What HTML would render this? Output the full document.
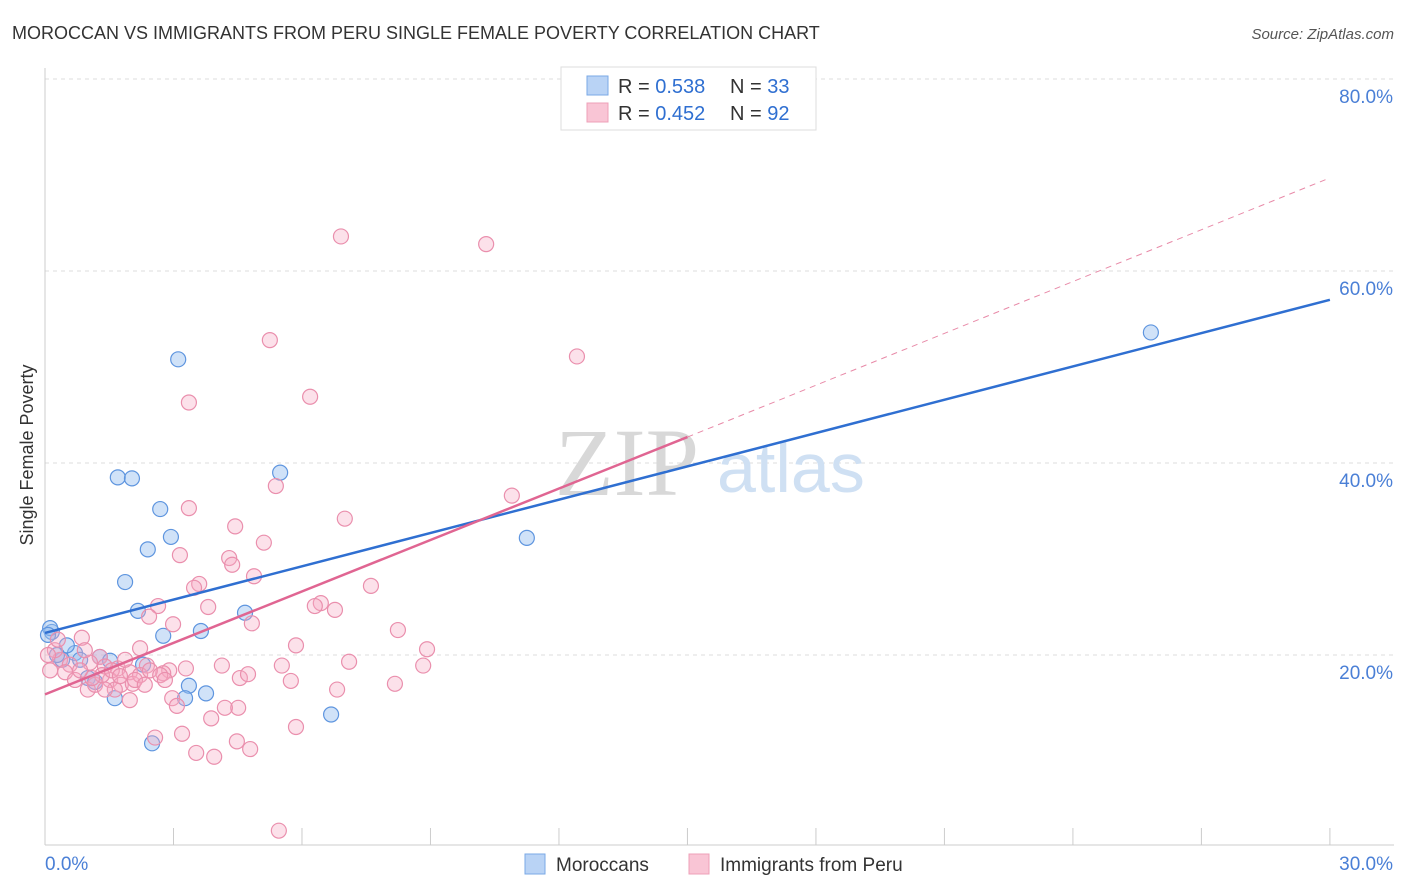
<!DOCTYPE html>
<html><head><meta charset="utf-8"><style>
body{margin:0;background:#fff;font-family:"Liberation Sans",sans-serif;}
svg{display:block}
</style></head><body>
<svg id="chart" width="1406" height="892">
<text x="12" y="39" font-size="18" fill="#333">MOROCCAN VS IMMIGRANTS FROM PERU SINGLE FEMALE POVERTY CORRELATION CHART</text>
<text x="1394" y="39" font-size="15" fill="#555" font-style="italic" text-anchor="end">Source: ZipAtlas.com</text>
<text x="33" y="455" font-size="18" fill="#333" text-anchor="middle" transform="rotate(-90 33 455)">Single Female Poverty</text>
<g id="grid"></g>
<g id="axes"></g>
<text x="555" y="495" font-size="96" fill="#d8d8d8" font-family="Liberation Serif">ZIP</text>
<text x="717" y="492" font-size="70" fill="#cfe0f3">atlas</text>
<g id="pts"></g>
<g id="lines"></g>
<g>
<rect x="561" y="67" width="255" height="63" fill="#fff" stroke="#ddd"/>
<rect x="587" y="76" width="21" height="19" fill="#b9d3f5" stroke="#7aa8e6"/>
<rect x="587" y="103" width="21" height="19" fill="#f9c5d5" stroke="#eea0b8"/>
<text x="618" y="93" font-size="20" fill="#333">R = <tspan fill="#2f6fd1">0.538</tspan></text>
<text x="730" y="93" font-size="20" fill="#333">N = <tspan fill="#2f6fd1">33</tspan></text>
<text x="618" y="120" font-size="20" fill="#333">R = <tspan fill="#2f6fd1">0.452</tspan></text>
<text x="730" y="120" font-size="20" fill="#333">N = <tspan fill="#2f6fd1">92</tspan></text>
</g>
<g>
<rect x="525" y="854" width="20" height="20" fill="#b9d3f5" stroke="#7aa8e6"/>
<text x="556" y="871" font-size="19" fill="#333">Moroccans</text>
<rect x="689" y="854" width="20" height="20" fill="#f9c5d5" stroke="#eea0b8"/>
<text x="720" y="871" font-size="19" fill="#333">Immigrants from Peru</text>
</g>
</svg>
<script>
const yTicks=[20,40,60,80];
const yTickLabels=["20.0%","40.0%","60.0%","80.0%"];
const xTicks=[0,3,6,9,12,15,18,21,24,27,30];
const blueX=[3.11,1.70,2.03,5.49,2.69,2.94,2.40,1.87,2.17,4.67,2.76,3.64,11.25,25.82,0.16,0.12,0.70,1.28,1.52,0.40,1.00,1.17,2.29,3.36,1.63,3.27,3.76,2.50,6.68,0.07,0.51,0.82,0.28];
const blueY=[50.8,38.5,38.4,39.0,35.2,32.3,31.0,27.6,24.6,24.4,22.0,22.5,32.2,53.6,22.4,22.8,20.2,19.8,19.4,19.5,17.6,17.2,19.0,16.8,15.5,15.5,16.0,10.8,13.8,22.1,21.0,19.5,20.0];
const pinkX=[6.91,10.30,12.42,5.25,3.36,6.19,5.39,10.90,3.36,7.00,4.44,5.11,3.15,4.30,4.37,4.88,7.61,3.60,3.48,6.44,6.77,6.30,3.81,2.64,2.43,4.83,2.99,8.24,0.86,2.22,5.86,8.92,7.10,8.83,5.53,4.13,3.29,2.90,2.76,2.38,1.70,1.98,1.28,1.40,1.52,1.77,2.05,4.55,4.74,5.74,8.17,6.82,1.00,1.98,2.97,3.08,4.51,3.88,4.20,5.86,3.20,2.57,4.48,4.79,3.53,3.95,5.46,0.35,0.58,1.05,0.23,0.07,0.47,0.70,1.17,1.33,1.56,1.87,2.22,2.45,2.69,1.63,1.10,0.82,0.12,0.30,0.93,1.40,1.75,2.10,2.33,2.80];
const pinkY=[63.6,62.8,51.1,52.8,46.3,46.9,37.6,36.6,35.3,34.2,33.4,31.7,30.4,30.1,29.4,28.2,27.2,27.4,27.0,25.4,24.7,25.1,25.0,25.1,24.0,23.3,23.2,22.6,21.8,20.7,21.0,20.6,19.3,18.9,18.9,18.9,18.6,18.4,18.1,18.9,18.6,18.2,19.8,18.8,17.4,16.9,17.0,17.6,18.0,17.3,17.0,16.4,16.4,15.3,15.5,14.7,14.5,13.4,14.5,12.5,11.8,11.4,11.0,10.2,9.8,9.4,1.7,19.5,19.0,19.2,20.5,20.0,18.2,17.4,16.9,17.9,18.4,19.5,17.9,18.4,17.9,16.4,17.6,18.4,18.4,21.6,20.5,16.4,17.8,17.4,16.9,17.4];
const blueLine=[0,22.3,30,57.0];
const pinkLine=[0,15.9,15,42.7];
const pinkDash=[15,42.7,30,69.7];
const NS="http://www.w3.org/2000/svg";
const X=v=>45+v*42.83, Y=v=>847-v*9.6;
function mk(tag,attrs,parent){const e=document.createElementNS(NS,tag);for(const k in attrs)e.setAttribute(k,attrs[k]);parent.appendChild(e);return e;}
const grid=document.getElementById('grid'),axes=document.getElementById('axes');
yTicks.forEach((t,i)=>{
 const l=mk('line',{x1:45,x2:1394,y1:Y(t),y2:Y(t),stroke:'#ddd','stroke-dasharray':'4,4'},grid);
 
 
 const tx=mk('text',{x:1393,y:Y(t)+24,'font-size':19,fill:'#4a7fd6','text-anchor':'end'},axes);
 tx.textContent=yTickLabels[i];
 
 
});
mk('line',{x1:45,x2:45,y1:68,y2:845,stroke:'#ccc'},axes);
mk('line',{x1:45,x2:1394,y1:845,y2:845,stroke:'#ccc'},axes);
xTicks.forEach(t=>{const l=mk('line',{x1:X(t),x2:X(t),y1:828,y2:845,stroke:'#ccc'},axes);
 
 });
let a=mk('text',{x:45,y:870,'font-size':19,fill:'#4a7fd6'},axes);a.textContent='0.0%';


a=mk('text',{x:1393,y:870,'font-size':19,fill:'#4a7fd6','text-anchor':'end'},axes);a.textContent='30.0%';


const pts=document.getElementById('pts');
blueX.forEach((x,i)=>{const c=mk('circle',{cx:X(x),cy:Y(blueY[i]),r:7.5,fill:'rgba(150,190,240,0.45)',stroke:'#5e95df','stroke-width':1.2},pts);
 
 });
pinkX.forEach((x,i)=>{const c=mk('circle',{cx:X(x),cy:Y(pinkY[i]),r:7.5,fill:'rgba(245,170,195,0.35)',stroke:'#ea8fad','stroke-width':1.2},pts);
 
 });
const lines=document.getElementById('lines');
let ln=mk('line',{x1:X(pinkDash[0]),y1:Y(pinkDash[1]),x2:X(pinkDash[2]),y2:Y(pinkDash[3]),stroke:'#e88aa8','stroke-width':1,'stroke-dasharray':'6,5'},lines);


ln=mk('line',{x1:X(blueLine[0]),y1:Y(blueLine[1]),x2:X(blueLine[2]),y2:Y(blueLine[3]),stroke:'#2f6fd1','stroke-width':2.5},lines);


ln=mk('line',{x1:X(pinkLine[0]),y1:Y(pinkLine[1]),x2:X(pinkLine[2]),y2:Y(pinkLine[3]),stroke:'#e06592','stroke-width':2.5},lines);


</script>
</body></html>
